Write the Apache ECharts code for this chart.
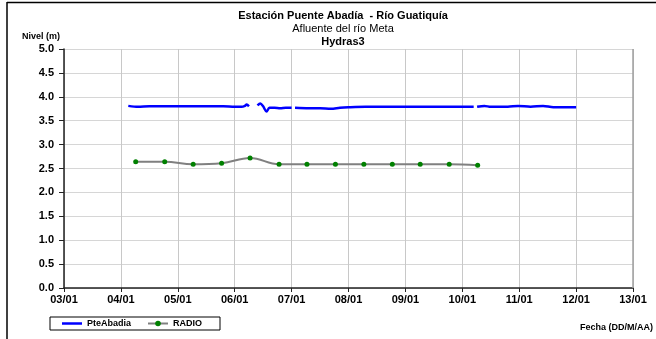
<!DOCTYPE html>
<html>
<head>
<meta charset="utf-8">
<script src="https://cdn.jsdelivr.net/npm/echarts@6/dist/echarts.min.js"></script>
<style>
html, body { margin: 0; padding: 0; background: #fff; }
#chart { width: 656px; height: 339px; }
</style>
</head>
<body>
<div id="chart"></div>
<script>
// dia (eje x) y nivel en metros
const abadiaDias = [4.13, 4.3, 4.5, 4.8, 5.0, 5.3, 5.5, 5.8, 6.0, 6.12, 6.18, 6.21, 6.25, null,
  6.40, 6.45, 6.5, 6.56, 6.61, 6.7, 6.8, 6.9, 7.0, null,
  7.06, 7.3, 7.5, 7.69, 7.85, 8.0, 8.3, 8.6, 9.0, 9.4, 9.8, 10.2, null,
  10.26, 10.39, 10.5, 10.8, 10.98, 11.2, 11.42, 11.6, 12.0];
const abadiaNivel = [3.81, 3.79, 3.80, 3.80, 3.80, 3.80, 3.80, 3.80, 3.79, 3.79, 3.81, 3.84, 3.80, null,
  3.82, 3.86, 3.80, 3.69, 3.77, 3.77, 3.76, 3.77, 3.77, null,
  3.77, 3.76, 3.76, 3.75, 3.77, 3.78, 3.79, 3.79, 3.79, 3.79, 3.79, 3.79, null,
  3.79, 3.81, 3.79, 3.79, 3.81, 3.79, 3.81, 3.78, 3.78];

const radioDias = [4.26, 4.77, 5.27, 5.77, 6.27, 6.78, 7.27, 7.77, 8.27, 8.77, 9.26, 9.77, 10.27];
const radioNivel = [2.64, 2.64, 2.59, 2.61, 2.72, 2.59, 2.59, 2.59, 2.59, 2.59, 2.59, 2.59, 2.57];

const xMin = 3, xMax = 13;

const fuente = 'Liberation Sans, Arial, sans-serif';

let chartContainer = document.getElementById('chart');
let myChart = echarts.init(chartContainer);

let options = {
  animation: false,
  backgroundColor: '#fff',
  textStyle: { fontFamily: fuente },
  title: [
    { text: 'Estación Puente Abadía  - Río Guatiquía', left: 338, top: 5, textAlign: 'center',
      textStyle: { fontSize: 11, fontWeight: 'bold', color: '#000', fontFamily: fuente } },
    { text: 'Afluente del río Meta', left: 338, top: 18, textAlign: 'center',
      textStyle: { fontSize: 11, fontWeight: 'normal', color: '#000', fontFamily: fuente } },
    { text: 'Hydras3', left: 338, top: 31, textAlign: 'center',
      textStyle: { fontSize: 11, fontWeight: 'bold', color: '#000', fontFamily: fuente } }
  ],
  graphic: [
    { type: 'line', shape: { x1: 7, y1: 2.5, x2: 656, y2: 2.5 }, style: { stroke: '#000', lineWidth: 1.5 } },
    { type: 'line', shape: { x1: 7, y1: 2, x2: 7, y2: 339 }, style: { stroke: '#000', lineWidth: 1.5 } },
    { type: 'text', left: 22, top: 32, style: { text: 'Nivel (m)', font: 'bold 9px ' + fuente, fill: '#000' } },
    { type: 'text', right: 3, top: 323, style: { text: 'Fecha (DD/M/AA)', font: 'bold 9px ' + fuente, fill: '#000' } }
  ],
  legend: {
    left: 50, top: 317,
    itemWidth: 20, itemHeight: 7, itemGap: 16,
    padding: [2, 18, 2, 12],
    borderColor: '#000', borderWidth: 1,
    textStyle: { fontSize: 9, fontWeight: 'bold', color: '#000', fontFamily: fuente },
    data: [
      { name: 'PteAbadia', icon: 'path://M0,0 H20 V2.5 H0 Z' },
      'RADIO'
    ]
  },
  grid: { left: 64, right: 23, top: 49, bottom: 51 },
  xAxis: {
    type: 'value', min: xMin, max: xMax, interval: 1,
    axisLine: { lineStyle: { color: '#222', width: 1.5 } },
    axisTick: { show: true, length: 4, lineStyle: { color: '#222' } },
    axisLabel: {
      fontSize: 11, fontWeight: 'bold', color: '#000', margin: 6,
      formatter: v => String(v).padStart(2, '0') + '/01'
    },
    splitLine: { show: true, lineStyle: { color: '#c8c8c8', width: 1 } }
  },
  yAxis: {
    type: 'value', min: 0, max: 5, interval: 0.5,
    axisLine: { show: true, lineStyle: { color: '#222', width: 1.5 } },
    axisTick: { show: true, length: 5, lineStyle: { color: '#222' } },
    axisLabel: {
      fontSize: 11, fontWeight: 'bold', color: '#000', margin: 10,
      formatter: v => v.toFixed(1)
    },
    splitLine: { show: true, lineStyle: { color: '#d6d6d6', width: 1 } }
  },
  series: [
    {
      name: 'PteAbadia', type: 'line',
      data: abadiaDias.map((d, i) => d === null ? [null, null] : [d, abadiaNivel[i]]),
      connectNulls: false,
      symbol: 'none', smooth: 0.3,
      lineStyle: { color: '#0000ff', width: 2.5 },
      itemStyle: { color: '#0000ff' }
    },
    {
      name: 'RADIO', type: 'line',
      data: radioDias.map((d, i) => [d, radioNivel[i]]),
      symbol: 'circle', symbolSize: 5, smooth: 0.4,
      lineStyle: { color: '#808080', width: 2 },
      itemStyle: { color: '#008000' }
    },
    {
      // borde derecho del area de trazado
      type: 'line', silent: true, data: [],
      markLine: {
        silent: true, symbol: 'none', label: { show: false },
        lineStyle: { color: '#a0a0a0', type: 'solid', width: 1.5 },
        data: [{ xAxis: xMax }]
      }
    }
  ]
};

options && myChart.setOption(options);
</script>
</body>
</html>
